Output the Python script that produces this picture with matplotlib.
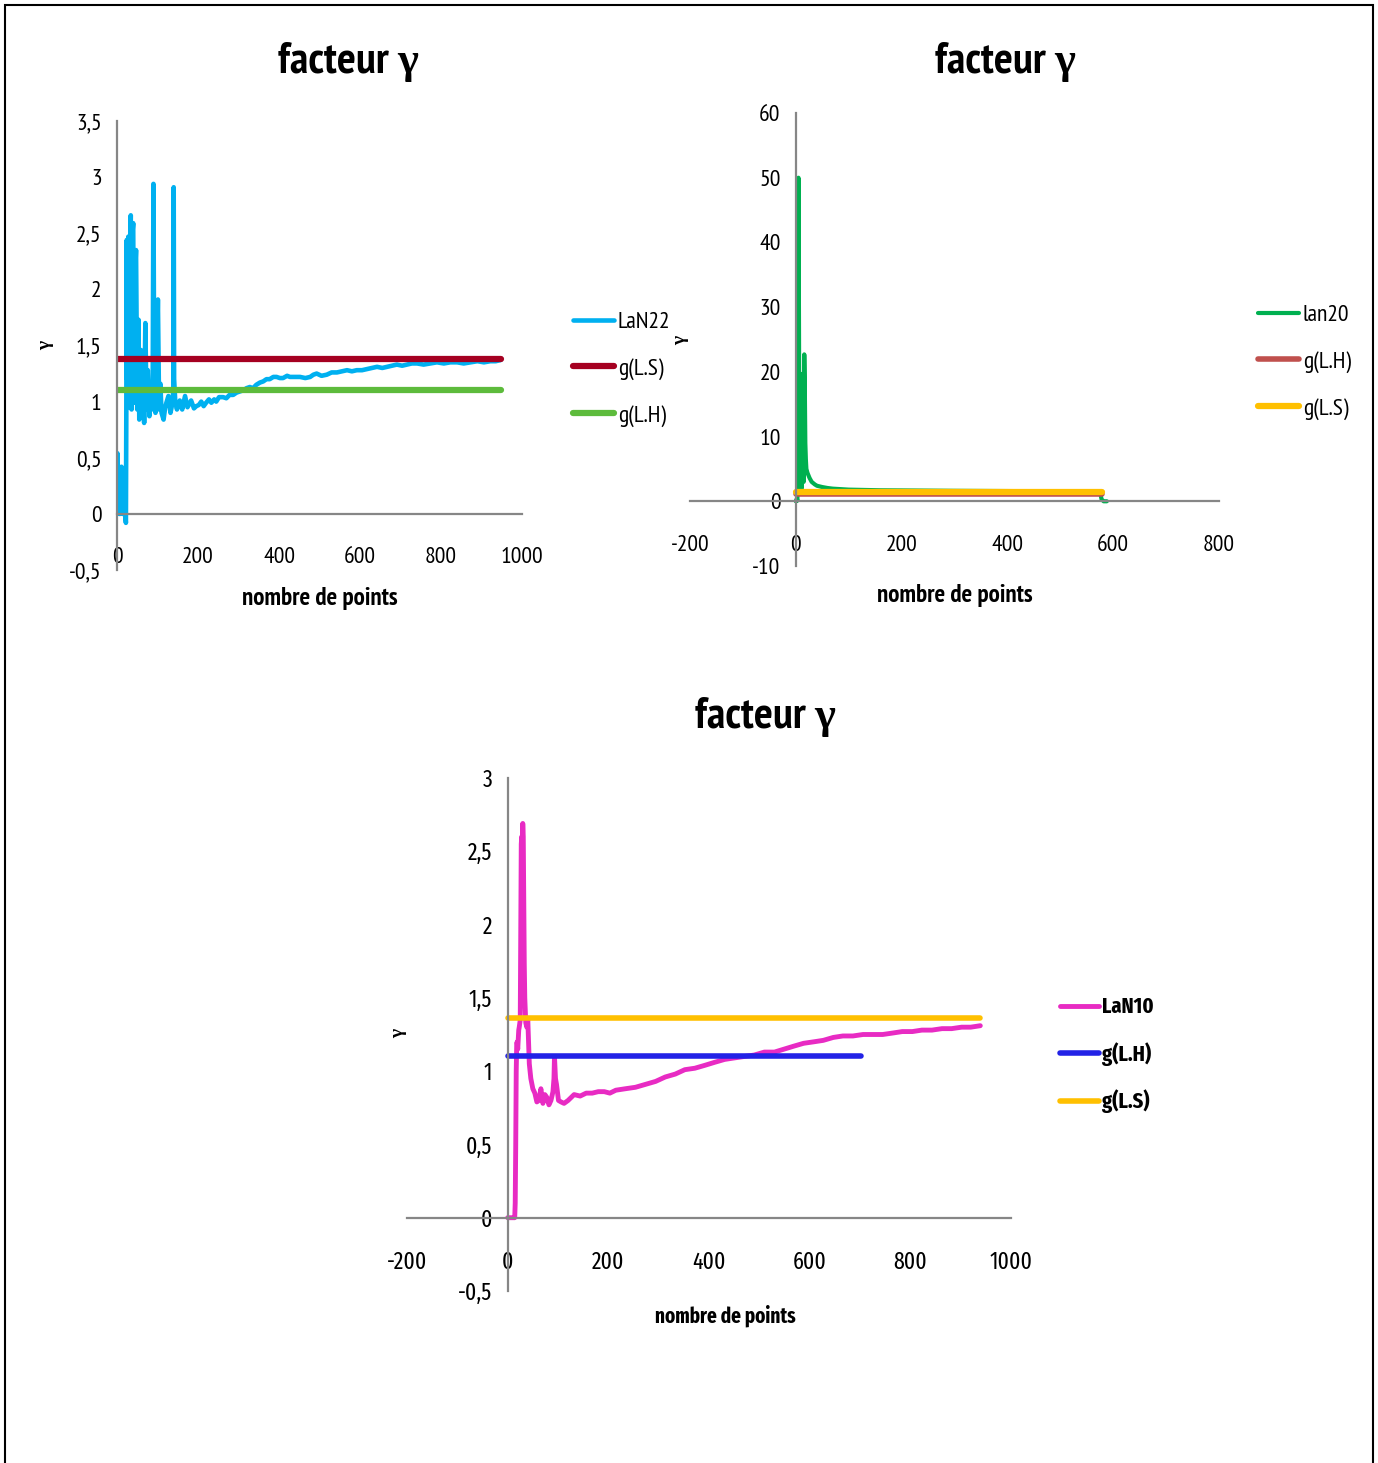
import matplotlib
matplotlib.use("Agg")
import matplotlib.pyplot as plt
import numpy as np
from matplotlib.patches import Rectangle
from matplotlib.ticker import FuncFormatter, MultipleLocator

# --- data ------------------------------------------------------------------
# chart 1 : LaN22
lan22_pts = [
    (0, 0.0), (1, 0.54), (3, 0.05), (5, 0.0), (8, 0.0), (11, 0.42), (13, 0.0),
    (17, 0.0), (20, 0.0), (22, -0.08), (23, 0.9), (24, 2.44), (25, 1.2),
    (26, 2.3), (28, 2.47), (30, 0.95), (32, 2.2), (34, 2.66), (36, 0.93),
    (38, 2.5), (40, 2.59), (42, 0.99), (44, 2.1), (47, 2.35), (50, 0.93),
    (53, 1.73), (55, 0.84), (57, 1.3), (59, 1.46), (62, 0.87), (65, 1.34),
    (67, 0.81), (70, 1.70), (73, 0.93), (76, 1.28), (80, 0.87), (83, 1.16),
    (86, 0.93), (88, 1.0), (90, 2.94), (92, 0.99), (95, 0.9), (97, 1.11),
    (99, 1.5), (101, 1.91), (104, 0.93), (107, 1.16), (110, 0.90), (115, 0.84),
    (119, 0.95), (122, 0.99), (127, 1.05), (132, 0.90), (137, 0.99),
    (139, 1.1), (140, 2.91), (141, 1.2), (144, 0.99), (148, 0.93), (155, 1.01),
    (161, 0.93), (168, 1.05), (174, 0.95), (183, 1.01), (190, 0.94),
    (196, 0.96), (202, 0.97), (208, 1.0), (214, 0.96), (220, 0.99),
    (227, 1.02), (233, 0.99), (240, 1.02), (245, 1.0), (252, 1.04),
    (262, 1.04), (270, 1.03), (278, 1.06), (287, 1.06), (295, 1.08),
    (303, 1.09), (311, 1.1), (320, 1.12), (328, 1.13), (336, 1.12),
    (344, 1.15), (353, 1.17), (361, 1.18), (369, 1.2), (377, 1.2),
    (386, 1.22), (394, 1.22), (402, 1.21), (410, 1.21), (420, 1.23),
    (427, 1.22), (440, 1.22), (452, 1.22), (465, 1.21), (477, 1.22),
    (485, 1.24), (493, 1.25), (505, 1.23), (518, 1.24), (530, 1.26),
    (543, 1.26), (555, 1.27), (568, 1.28), (580, 1.27), (592, 1.28),
    (605, 1.28), (617, 1.29), (630, 1.3), (642, 1.31), (655, 1.3),
    (667, 1.31), (680, 1.32), (691, 1.33), (704, 1.32), (716, 1.33),
    (728, 1.34), (741, 1.34), (757, 1.33), (774, 1.34), (790, 1.35),
    (807, 1.34), (823, 1.35), (840, 1.35), (856, 1.34), (873, 1.35),
    (890, 1.36), (906, 1.35), (922, 1.36), (935, 1.36), (947, 1.37),
]
g_ls_22 = 1.38
g_lh_22 = 1.10
span_22 = [0, 947]

# chart 2 : lan20
lan20_x = [0, 2, 3, 4, 5, 6, 7, 8, 9, 10, 11, 12, 13, 14, 15, 16, 17, 18, 19,
           20, 22, 24, 26, 28, 30, 33, 36, 40, 45, 50, 60, 70, 80, 100, 130,
           160, 200, 250, 300, 350, 400, 450, 500, 550, 575, 578, 582, 588]
lan20_y = [0.0, 0.4, 0.1, 6.0, 50.0, 28.0, 2.5, 9.0, 19.7, 12.0, 2.0, 17.0,
           5.0, 14.0, 3.0, 22.7, 18.0, 9.0, 6.5, 5.0, 4.4, 4.0, 3.6, 3.3, 3.0,
           2.8, 2.6, 2.4, 2.3, 2.2, 2.05, 1.95, 1.9, 1.8, 1.75, 1.7, 1.68,
           1.65, 1.62, 1.6, 1.58, 1.56, 1.54, 1.52, 1.5, 0.3, 0.0, 0.0]
g_lh_20 = 1.10
g_ls_20 = 1.38
span_20 = [0, 578]

# chart 3 : LaN10
lan10_x = [0, 5, 10, 14, 15, 16, 17, 18, 19, 20, 22, 23, 25, 27, 28, 29, 30,
           31, 33, 34, 36, 38, 40, 43, 46, 50, 54, 58, 62, 66, 70, 74, 78, 82,
           86, 90, 92, 93, 95, 97, 101, 106, 112, 120, 132, 144, 156, 168, 180,
           192, 203, 215, 234, 254, 274, 294, 313, 333, 352, 372, 392, 411,
           431, 450, 470, 490, 510, 530, 549, 568, 588, 608, 627, 647, 666,
           686, 706, 725, 745, 765, 784, 804, 823, 843, 863, 882, 902, 920, 939]
lan10_y = [0, 0, 0, 0, 0.1, 0.49, 1.0, 1.19, 1.2, 1.15, 1.28, 1.3, 1.35, 2.55,
           2.6, 2.5, 2.69, 2.6, 1.73, 1.5, 1.33, 1.3, 1.35, 1.05, 0.95, 0.88,
           0.85, 0.79, 0.8, 0.88, 0.78, 0.84, 0.82, 0.77, 0.8, 0.86, 0.95, 1.10,
           0.95, 0.91, 0.80, 0.79, 0.78, 0.80, 0.84, 0.83, 0.85, 0.85, 0.86,
           0.86, 0.85, 0.87, 0.88, 0.89, 0.91, 0.93, 0.96, 0.98, 1.01, 1.02,
           1.04, 1.06, 1.08, 1.09, 1.1, 1.11, 1.13, 1.13, 1.15, 1.17, 1.19,
           1.2, 1.21, 1.23, 1.24, 1.24, 1.25, 1.25, 1.25, 1.26, 1.27, 1.27,
           1.28, 1.28, 1.29, 1.29, 1.30, 1.30, 1.31]
g_lh_10 = 1.10
span_lh_10 = [0, 701]
g_ls_10 = 1.36
span_ls_10 = [0, 939]

title = "facteur γ"
xlabel = "nombre de points"
ylabel = "γ"

# --- styling ------------------------------------------------------------------
W, H = 1378, 1463
NARROW = ["PT Sans Narrow", "Liberation Serif", "DejaVu Sans"]
CALI = ["Fira Sans Extra Condensed", "Liberation Serif", "DejaVu Sans"]
AXIS_GREY = "#868686"


def comma_fmt(v, pos):
    s = f"{v:g}".replace(".", ",")
    return s.replace("\u2212", "-")


def fx(px):
    return px / W


def fy(py):
    return 1 - py / H


def style_axes(ax, xlim, ylim, xstep, ystep, fam, fsize):
    ax.set_xlim(*xlim)
    ax.set_ylim(*ylim)
    ax.xaxis.set_major_locator(MultipleLocator(xstep))
    ax.yaxis.set_major_locator(MultipleLocator(ystep))
    ax.xaxis.set_major_formatter(FuncFormatter(comma_fmt))
    ax.yaxis.set_major_formatter(FuncFormatter(comma_fmt))
    for side in ["top", "right"]:
        ax.spines[side].set_visible(False)
    ax.spines["left"].set_position(("data", 0))
    ax.spines["bottom"].set_position(("data", 0))
    for side in ["left", "bottom"]:
        ax.spines[side].set_color(AXIS_GREY)
        ax.spines[side].set_linewidth(1.6)
    ax.tick_params(axis="x", length=0, pad=24)
    ax.tick_params(axis="y", length=0, pad=11)
    for lab in ax.get_xticklabels() + ax.get_yticklabels():
        lab.set_family(fam)
        lab.set_fontsize(fsize)
    ax.set_facecolor("none")


fig = plt.figure(figsize=(W / 100, H / 100), dpi=100)

# outer frame
fig.add_artist(Rectangle((fx(5), -0.01), fx(1368), fy(5) + 0.01,
                         transform=fig.transFigure, fill=False,
                         edgecolor="black", linewidth=1.5))

line_kw = dict(solid_capstyle="round", solid_joinstyle="round")

# chart 1 -----------------------------------------------------------------------
ax1 = fig.add_axes([fx(117), fy(570), fx(522 - 117), (570 - 121) / H])
x22 = [p[0] for p in lan22_pts]
y22 = [p[1] for p in lan22_pts]
ax1.plot(x22, y22, color="#00B0F0", lw=3.3, label="LaN22", **line_kw)
ax1.plot(span_22, [g_ls_22, g_ls_22], color="#A50021", lw=4.5, label="g(L.S)", **line_kw)
ax1.plot(span_22, [g_lh_22, g_lh_22], color="#5DBB3C", lw=4.5, label="g(L.H)", **line_kw)
style_axes(ax1, (0, 1000), (-0.5, 3.5), 200, 0.5, NARROW, 17)

# chart 2 -----------------------------------------------------------------------
ax2 = fig.add_axes([fx(690), fy(566), fx(1219 - 690), (566 - 113) / H])
ax2.plot(lan20_x, lan20_y, color="#00B050", lw=3.0, label="lan20", **line_kw)
ax2.plot(span_20, [g_lh_20, g_lh_20], color="#C0504D", lw=4.0, label="g(L.H)", **line_kw)
ax2.plot(span_20, [g_ls_20, g_ls_20], color="#FFC000", lw=4.5, label="g(L.S)", **line_kw)
style_axes(ax2, (-200, 800), (-10, 60), 200, 10, NARROW, 17)

# chart 3 -----------------------------------------------------------------------
ax3 = fig.add_axes([fx(407), fy(1291), fx(1011 - 407), (1291 - 778) / H])
ax3.plot(lan10_x, lan10_y, color="#E82BC3", lw=3.5, label="LaN10", **line_kw)
ax3.plot(span_lh_10, [g_lh_10, g_lh_10], color="#2222E6", lw=4.0, label="g(L.H)", **line_kw)
ax3.plot(span_ls_10, [g_ls_10, g_ls_10], color="#FFC000", lw=4.0, label="g(L.S)", **line_kw)
style_axes(ax3, (-200, 1000), (-0.5, 3), 200, 0.5, CALI, 17)

# titles and axis labels ----------------------------------------------------------
for cx, cy in [(348, 62), (1005, 62), (765, 717)]:
    fig.text(fx(cx), fy(cy), title, ha="center", va="center",
             family=NARROW, fontweight="bold", fontsize=32)

for cx, cy, fam, fs in [(320, 598, NARROW, 18), (955, 596, NARROW, 18),
                        (725, 1316, CALI, 15)]:
    fig.text(fx(cx), fy(cy), xlabel, ha="center", va="center",
             family=fam, fontweight="bold", fontsize=fs)

for cx, cy in [(45, 345), (680, 340), (398, 1033)]:
    fig.text(fx(cx), fy(cy), ylabel, ha="center", va="center", rotation=90,
             family=NARROW, fontweight="bold", fontsize=14)

# legends -------------------------------------------------------------------------
leg_kw = dict(loc="center left", frameon=False, borderpad=0, borderaxespad=0,
              handlelength=1.75, handletextpad=0.15,
              bbox_transform=fig.transFigure)
ax1.legend(bbox_to_anchor=(fx(573), fy(369)), labelspacing=1.06,
           prop=dict(family=NARROW, size=17), **leg_kw)
ax2.legend(bbox_to_anchor=(fx(1258), fy(362)), labelspacing=1.06,
           prop=dict(family=NARROW, size=17), **leg_kw)
ax3.legend(bbox_to_anchor=(fx(1060), fy(1055)), labelspacing=1.08,
           prop=dict(family=CALI, size=16, weight="bold"), **leg_kw)

fig.savefig("out.png", dpi=100)
